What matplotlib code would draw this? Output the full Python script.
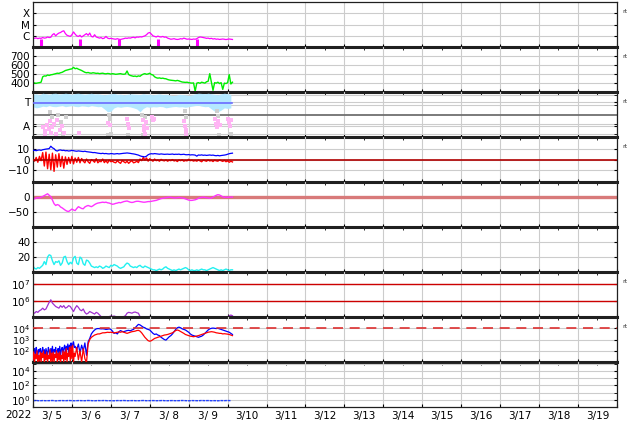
import numpy as np
import matplotlib
matplotlib.use('Agg')
import matplotlib.pyplot as plt
from matplotlib.ticker import NullFormatter

# ---- data (hourly samples from 3/5 00UT, x axis in days) ----
day_labels = ['3/ 5', '3/ 6', '3/ 7', '3/ 8', '3/ 9', '3/10', '3/11', '3/12',
              '3/13', '3/14', '3/15', '3/16', '3/17', '3/18', '3/19']
year_label = '2022'

# X-ray flux, log10 W/m2
xray_log = [-6.2, -6.22, -6.18, -6.25, -6.2, -6.22, -6.15, -6.2, -6.18, -6.1, -6.15, -6.12,
            -5.9, -5.8, -6.0, -5.85, -5.75, -5.7,
            -5.6, -5.55, -5.8, -5.95, -6.0,
            -6.05, -5.9, -5.65, -5.85,
            -6.0, -6.05, -5.95, -6.1,
            -6.0, -5.9, -5.8, -5.95, -5.75, -6.05, -6.1, -5.9, -6.1, -6.15,
            -6.2, -6.15, -6.25, -6.2, -6.05, -6.2, -6.25, -6.22,
            -6.25, -6.28, -6.3, -6.25, -6.3, -6.32, -6.28, -6.25, -6.2, -6.22, -6.18, -6.2,
            -6.15, -6.12, -6.18, -6.1, -6.12, -6.08, -6.1, -6.05,
            -6.0, -5.9, -5.75, -5.7, -5.85, -6.0,
            -6.05, -6.1, -6.02, -6.08, -6.1, -6.05, -6.12, -6.1,
            -6.2, -6.25, -6.3, -6.28, -6.25, -6.3, -6.32, -6.3, -6.25, -6.28, -6.2, -6.25, -6.3, -6.28,
            -6.3, -6.32, -6.28, -6.3, -6.25, -6.15, -6.1, -6.12,
            -6.15, -6.18, -6.22, -6.2, -6.25, -6.22, -6.28, -6.25,
            -6.3, -6.28, -6.32, -6.3, -6.28, -6.3, -6.33, -6.3, -6.28, -6.3, -6.32]
xray_dip_days = [0.2, 1.21, 2.21, 3.21, 4.21]
xray_dip_top = -6.25

# solar wind speed km/s
speed = [410, 400, 398, 402, 405, 410,
         470, 480, 478, 490, 485, 492,
         495, 500, 505, 510, 508, 515, 520,
         530, 540, 545, 550, 555, 558,
         575, 560, 565,
         555, 548, 540, 530,
         520, 515, 518, 512, 510, 515, 512, 508, 510,
         505, 508, 510, 505, 503, 507, 505, 500, 505, 502, 498, 500, 503, 505, 500, 498, 502,
         535,
         495, 485, 480, 475, 478, 472, 480, 476,
         490, 500, 505, 498, 502, 510, 495, 490,
         470, 460, 455, 458, 452, 455, 450, 448,
         440, 435, 432, 430, 428, 425, 430, 425,
         418, 412, 410, 408, 410, 405, 402, 400,
         402, 310, 400, 405, 398, 410, 405, 400, 415, 420, 505, 410, 320, 405, 400, 410,
         395, 405, 330, 400, 395, 405, 495, 390, 410]

# IMF sector (toward / away), 2-hourly envelope of the toward band
phi_hours = np.arange(0, 124, 2)
phi_top = [3.8, 3.85, 3.75, 3.9, 3.85, 3.8, 3.88, 3.9, 3.82, 3.85,
           3.9, 3.86, 3.8, 3.88, 3.9, 3.85, 3.8, 3.85, 3.9, 3.82,
           3.85, 3.8, 3.75, 3.8, 3.85, 3.88, 3.8, 3.82, 3.75, 3.8,
           3.85, 3.82, 3.8, 3.78, 3.85, 3.8, 3.82, 3.75, 3.8, 3.85,
           3.78, 3.8, 3.75, 3.7, 3.72, 3.8, 3.78, 3.75, 3.7, 3.75,
           3.85, 3.9, 3.88, 3.85, 3.9, 3.85, 3.8, 3.75, 3.85, 3.9,
           3.85, 3.8]
phi_bot = [2.7, 2.6, 2.65, 2.75, 2.7, 2.8, 2.72, 2.7, 2.75, 2.8,
           2.7, 2.75, 2.8, 2.72, 2.7, 2.78, 2.75, 2.7, 2.8, 2.75,
           2.7, 2.72, 2.5, 2.25, 2.3, 2.6, 2.7, 2.65, 2.7, 2.72,
           2.68, 2.6, 2.5, 2.25, 2.55, 2.7, 2.65, 2.7, 2.68, 2.72,
           2.7, 2.6, 2.65, 2.7, 2.72, 2.68, 2.7, 2.65, 2.7, 2.75,
           2.8, 2.82, 2.75, 2.7, 2.72, 2.5, 2.3, 2.25, 2.4, 2.6,
           2.55, 2.6]
phi_level = 3.05
away_t = [0.27, 0.3, 0.32, 0.35, 0.4, 0.43, 0.47, 0.5, 0.55, 0.6, 0.63, 0.7, 0.75, 0.8,
          1.17, 1.93, 1.97, 2.42, 2.45, 2.47, 2.82, 2.84, 2.86, 2.88, 2.9, 2.93,
          3.05, 3.08, 3.12, 3.88, 3.9, 3.92, 3.94, 4.68, 4.7, 4.73, 4.76, 4.8,
          5.0, 5.03, 5.06, 5.1]
away_v = [0.9, 0.5, 0.3, 1.1, 0.7, 1.4, 0.4, 0.9, 1.2, 0.3, 1.5, 0.6, 1.0, 0.35,
          0.35, 1.25, 1.1, 1.6, 1.2, 0.8, 1.5, 1.0, 0.6, 0.3, 1.3, 0.8,
          1.8, 1.5, 1.65, 1.4, 1.0, 0.6, 0.3, 1.6, 1.2, 0.9, 1.4, 1.1,
          1.6, 1.3, 1.0, 1.5]
gray_t = [0.45, 0.5, 0.58, 0.65, 0.72, 0.78, 0.84, 1.95, 1.98, 2.0, 2.8, 2.83, 2.87,
          3.9, 3.93, 3.95, 4.72, 4.75, 4.78, 5.08, 1.93, 2.43]
gray_v = [2.2, 1.8, 0.2, 2.0, 1.3, 0.25, 1.8, 2.0, 1.6, 0.3, 2.0, 0.2, 1.8,
          2.3, 1.8, 0.2, 2.3, 1.9, 0.2, 0.25, 0.2, 0.2]

# IMF Bt / Bz, nT
bt = [8.5, 8.7, 8.3, 8.8, 9.0, 8.6, 9.2, 9.5, 9.8, 10.0, 10.3,
      12.5, 11.0, 10.2,
      8.5, 8.0, 8.8, 9.0, 8.5, 8.7, 8.2,
      8.4, 8.0, 8.2, 8.6, 8.3, 8.0, 7.8, 8.1, 7.9, 7.7, 7.5, 7.8, 7.4, 7.2, 7.0, 6.8, 6.5, 6.6, 6.3, 6.0,
      5.8, 5.6, 5.9, 5.5, 5.7, 5.4, 5.3, 5.6, 5.5, 5.2, 5.4, 5.6, 5.3, 5.5, 5.7, 5.9, 6.0, 6.2, 6.0,
      5.8, 5.5, 5.3, 5.0, 4.6, 4.2,
      3.5, 3.0, 2.8, 2.5, 3.2, 4.5, 5.2,
      5.5, 5.3, 5.6, 5.4, 5.2, 5.0, 5.3, 5.1, 4.9, 5.0,
      5.1, 4.9, 5.0, 5.2, 4.8, 5.0, 4.9, 5.1, 4.7, 4.8, 5.0, 4.6, 4.5, 4.7, 4.3, 4.5, 4.4,
      4.2, 3.2, 4.3, 4.1, 4.4, 4.0, 4.2, 3.9, 4.1, 4.3, 4.0, 4.2, 3.8, 3.6, 3.9, 3.5, 3.8, 4.0, 4.2,
      4.5, 5.0, 5.5, 5.8, 6.0]
bz = [1.0, -1.5, 2.0, -2.5, 3.0, -1.0,
      6.5, -6.0, 7.0, -8.5, 5.0, -9.5, 6.0, -11.0, 4.5, -7.0, 5.5, -6.5, 3.0, -8.0, 2.5,
      -4.5, 2.0, -3.5, 3.0, -4.0, 1.5, -2.5, 2.0, -3.0, 1.0,
      -1.5, -3.0, 0.5, -2.0, -3.5, 0.0, -1.0, -2.5, 0.8, -3.0, -1.5, -2.0, 0.5, -2.8, -1.0, -3.2,
      -0.5, -2.0, -1.5, -2.5,
      -3.0, -1.0, -2.5, -3.5, -0.8, -2.0, -3.0, -1.5, -3.5, -2.0, -1.0, -3.0, -2.5, -1.5, -2.8,
      0.5, -1.0, 2.0, -0.5, 1.5, -1.5, 0.8, -0.5, -1.5, 0.5,
      -1.0, -0.5, -1.5, 0.2, -0.8, -1.2, -0.3, -1.5, -0.6, -1.0, 0.0, -1.3, -0.7, -1.8, -0.4, -1.0,
      -0.2, -1.5, -0.8, -1.2, 0.3, -1.0, -0.6, -1.4,
      -0.8, -1.5, -0.4, -1.2, -2.0, -0.5, -1.0, -1.6, -0.3, -1.3, -0.8, -1.8, -0.6, -1.2, -1.5, -0.4,
      -1.0, -1.7, -0.7, -2.0, -1.2, -2.5, -1.5, -2.2]

# Dst, nT
dst = [-5, -6, -3, -2, -3, 0, 2, 5, 8, 11, 6, 1, -10, -22, -28, -25, -27, -33, -36, -40,
       -44, -47, -48, -44, -40, -43, -45, -38, -32, -35, -38, -39, -33, -30, -28, -30, -32, -29,
       -25, -22, -20, -19, -18, -17, -18, -17, -19, -20, -22, -24, -23, -21, -20, -18, -19, -17,
       -15, -14, -13, -15, -17, -18, -17, -15, -14, -14, -15, -16, -17, -17, -16, -15, -15, -14,
       -13, -12, -11, -9, -7, -5, -4, -3, -2, -1, 0, -1, -2, -3, -3, -2, -1, -2, -3, -4, -6, -8,
       -10, -11, -11, -10, -9, -7, -4, -2, -1, 0, -1, -2, -3, -4, -3, 0, 3, 6, 8, 7, 4, 1, -1,
       0, -1, 0, 0, 0]

# AE-like activity (cyan)
act = [8, 5, 4, 6, 5, 7, 9, 14, 10, 20, 23, 22, 15, 10, 14, 13, 15, 9, 12, 20, 21, 14,
       10, 13, 11, 19, 21, 12, 10, 20, 18, 11, 9, 16, 15, 12, 8, 7, 6,
       7, 6, 8, 7, 5, 6, 8, 7, 6, 9, 8, 10, 9, 8, 6, 5, 6, 7, 10, 12, 11, 8, 7, 6,
       7, 6, 8, 9, 7, 6, 8, 7, 6, 5, 4, 3,
       3, 2, 3, 4, 3, 4, 6, 7, 5, 4, 3, 2, 3, 2, 3, 4, 3, 4, 5, 6, 5, 3, 2, 3, 2, 2, 3, 2, 3, 4,
       3, 3, 2, 3, 4, 5, 6, 5, 4, 3, 2, 3, 2, 3, 4, 3, 2, 3, 3]

# >2 MeV electrons, log10
elec_log = [5.3, 5.25, 5.35, 5.3, 5.4, 5.45, 5.55, 5.45, 5.5, 5.7, 5.9, 6.05, 5.85, 5.75,
            5.65, 5.6, 5.55, 5.7, 5.6, 5.7, 5.55, 5.6, 5.7, 5.65, 5.5, 5.35, 5.55, 5.7, 5.6,
            5.45, 5.4, 5.5, 5.3, 5.2, 5.25, 5.35, 5.3, 5.25, 5.2, 5.3,
            5.25, 5.15, 5.05, 5.0, 4.98, 5.02, 5.0, 5.05, 5.08, 5.06, 5.08, 5.05, 5.02, 5.0,
            4.98, 5.0, 5.05, 5.1, 5.25, 5.3, 5.28, 5.25, 5.3, 5.32, 5.28, 5.25, 5.05,
            4.9, 4.85, 4.9, 4.88, 4.9, 5.06,
            4.9, 4.85, 4.8, 4.82, 4.78, 4.8, 4.85, 4.82, 4.8, 4.78, 4.75, 4.8, 4.82, 4.8,
            4.78, 4.76, 4.8, 4.82, 4.85, 4.8, 4.78, 4.75, 4.72, 4.75, 4.78, 4.8, 4.82, 4.8,
            4.78, 4.76, 4.74, 4.75, 4.78, 4.8, 4.82, 4.8, 4.78, 4.75, 4.78, 4.8, 4.82, 4.85,
            4.83, 4.8, 4.85, 4.88, 4.9,
            4.95, 5.1, 5.14, 5.1]

# particle flux, log10 (30-min until 26h, then hourly)
p8_early_hours = np.arange(0, 26, 0.5)
p8_late_hours = np.arange(26, 124)
p8_blue_early = [2.4, 1.8, 2.2, 1.5, 2.3, 2.0, 1.6, 2.1, 1.9, 2.2,
                 1.4, 2.0, 2.3, 1.7, 2.1, 1.5, 2.2, 1.9, 1.6, 2.3,
                 2.0, 1.5, 2.2, 1.8, 2.4, 1.6, 2.1, 1.9, 2.3, 1.5,
                 2.0, 2.2, 1.7, 2.4, 1.6, 2.1, 2.3, 1.8, 2.2, 2.5,
                 1.9, 2.4, 2.1, 2.6, 1.8, 2.5, 2.2, 2.7, 1.6, 2.6,
                 2.8, 2.3]
p8_red_early = [1.2, 1.9, 1.0, 1.7, 1.3, 2.0, 0.9, 1.6, 1.1, 1.9,
                1.0, 1.8, 1.4, 2.0, 0.9, 1.7, 1.2, 1.9, 1.0, 1.6,
                1.3, 2.1, 0.95, 1.8, 1.1, 1.9, 1.0, 1.7, 1.4, 2.0,
                1.0, 1.8, 1.2, 1.9, 0.9, 1.6, 1.3, 2.0, 1.0, 1.9,
                1.2, 2.2, 1.0, 1.8, 1.5, 2.3, 1.1, 2.4, 1.3, 2.5,
                0.95, 1.8]
p8_blue_late = [2.4, 2.1, 2.6, 1.8, 2.5, 2.0, 2.7, 1.6, 2.8, 3.1, 3.5, 3.7, 3.85, 3.95,
                3.98, 3.97, 3.95, 3.96, 3.94, 3.9, 3.92, 3.95, 3.9, 3.75, 3.55, 3.6, 3.5,
                3.7, 3.8, 3.72, 3.7, 3.75, 3.8, 3.82, 3.78, 3.85, 3.9, 4.05, 4.2, 4.35,
                4.3, 4.2, 4.1, 4.05, 3.95, 3.9, 3.85, 3.7, 3.55, 3.45, 3.5, 3.4, 3.35,
                3.2, 3.1, 3.0, 2.95, 3.1, 3.25, 3.35, 3.5, 3.7, 3.9, 4.05, 4.1, 4.05,
                3.95, 3.9, 3.85, 3.75, 3.65, 3.5, 3.4, 3.35, 3.3, 3.25, 3.2, 3.25, 3.3,
                3.4, 3.55, 3.7, 3.85, 3.95, 4.0, 4.02, 4.0, 3.98, 4.0, 3.95, 3.9, 3.85,
                3.8, 3.75, 3.7, 3.65, 3.55, 3.45]
p8_red_late = [1.5, 2.3, 1.2, 2.0, 1.0, 2.2, 1.3, 0.95, 2.6, 3.0, 3.2, 3.3, 3.4, 3.45,
               3.5, 3.5, 3.55, 3.6, 3.6, 3.62, 3.65, 3.63, 3.65, 3.62, 3.6, 3.62, 3.65,
               3.68, 3.65, 3.7, 3.65, 3.6, 3.55, 3.6, 3.65, 3.7, 3.72, 3.75, 3.8, 3.82,
               3.75, 3.6, 3.4, 3.2, 3.05, 2.9, 2.85, 2.9, 3.0, 3.1, 3.15, 3.2, 3.25,
               3.3, 3.35, 3.4, 3.42, 3.45, 3.5, 3.55, 3.6, 3.7, 3.8, 3.85, 3.8, 3.72,
               3.65, 3.55, 3.45, 3.4, 3.35, 3.3, 3.28, 3.25, 3.28, 3.3, 3.35, 3.4, 3.45,
               3.5, 3.55, 3.6, 3.65, 3.68, 3.7, 3.68, 3.65, 3.6, 3.58, 3.55, 3.55, 3.5,
               3.52, 3.5, 3.48, 3.45, 3.4, 3.35]
p8_threshold = 1e4

# bottom panel, log10, 2-hourly
p9_hours = np.arange(0, 124, 2)
p9_log = [-0.12, -0.1, -0.14, -0.11, -0.13, -0.12, -0.1, -0.15, -0.12, -0.11,
          -0.13, -0.1, -0.12, -0.14, -0.11, -0.12, -0.13, -0.1, -0.12, -0.14,
          -0.11, -0.12, -0.1, -0.13, -0.12, -0.14, -0.11, -0.12, -0.1, -0.13,
          -0.12, -0.11, -0.14, -0.12, -0.1, -0.13, -0.12, -0.11, -0.13, -0.12,
          -0.1, -0.14, -0.12, -0.11, -0.13, -0.12, -0.1, -0.12, -0.14, -0.11,
          -0.12, -0.13, -0.1, -0.12, -0.11, -0.13, -0.12, -0.14, -0.11, -0.12,
          -0.1, -0.12]

hours = np.arange(len(speed))
t = hours / 24.0

# ---- figure ----
plt.rcParams['font.family'] = 'DejaVu Sans'
fig, axes = plt.subplots(9, 1, figsize=(6.34, 4.24), dpi=100, sharex=True)
fig.subplots_adjust(left=0.052, right=0.973, top=0.995, bottom=0.04, hspace=0)

GRID = '#cccccc'
FS = 7.5


def setup(ax, ylim, ticks, labels, grid, log=False, fs=FS):
    if log:
        ax.set_yscale('log')
    ax.set_ylim(*ylim)
    ax.set_yticks(ticks, labels)
    ax.set_yticks(grid, minor=True)
    ax.yaxis.set_minor_formatter(NullFormatter())
    ax.yaxis.grid(True, which='both', color=GRID, lw=0.8, zorder=0)
    ax.xaxis.grid(True, which='major', color=GRID, lw=0.8, zorder=0)
    ax.tick_params(axis='y', which='both', direction='in', length=2.5, labelsize=fs,
                   right=True, pad=2)
    ax.tick_params(axis='x', which='major', direction='in', length=2.5, top=False)
    ax.set_axisbelow(True)
    ax.patch.set_alpha(0)


ax = axes[0]
setup(ax, (1e-7, 1e-3), [1e-6, 1e-5, 1e-4], ['C', 'M', 'X'],
      [1e-6, 1e-5, 1e-4], log=True)
ax.plot(t, 10 ** np.array(xray_log), color='#ff00ff', lw=0.9)
ax.vlines(xray_dip_days, 1e-7, 10 ** xray_dip_top, color='#ff00ff', lw=2.2)

ax = axes[1]
setup(ax, (300, 800), [400, 500, 600, 700], ['400', '500', '600', '700'],
      [400, 500, 600, 700])
ax.plot(t, speed, color='#00ee00', lw=1.0)

ax = axes[2]
setup(ax, (0, 4), [3.1, 1.0], ['T', 'A'], [0.3, 1.15, 2.85, 3.7])
ax.axhline(2.0, color='#707070', lw=1.3, zorder=1)
ax.fill_between(phi_hours / 24.0, phi_bot, phi_top, color='#b4e8ff', lw=0, zorder=2)
ax.scatter(gray_t, gray_v, s=5, marker='s', color='#cfcfcf', lw=0, zorder=2)
ax.scatter(away_t, away_v, s=6, marker='s', color='#ffb4f4', lw=0, zorder=3)
ax.plot([t[0], t[-1]], [phi_level, phi_level], color='#6a6aff', lw=1.2, zorder=4)

ax = axes[3]
setup(ax, (-21, 21), [-10, 0, 10], ['\u221210', '0', '10'], [-10, 10])
ax.plot(t, bz, color='#ff0000', lw=1.0, zorder=2)
ax.plot(t, bt, color='#0000ff', lw=0.9, zorder=3)
ax.axhline(0, color='#b00000', lw=1.2, zorder=4)

ax = axes[4]
setup(ax, (-100, 50), [-50, 0], ['\u221250', '0'], [-50])
ax.axhline(0, color='#d87a7a', lw=2.4, zorder=1)
ax.plot(t, dst, color='#ff33ff', lw=1.0, zorder=2)

ax = axes[5]
setup(ax, (0, 60), [20, 40], ['20', '40'], [20, 40])
ax.plot(t, act, color='#22f0f0', lw=1.0)

ax = axes[6]
setup(ax, (10 ** 5.02, 10 ** 7.7), [1e6, 1e7], ['$10^6$', '$10^7$'], [1e6, 1e7], log=True)
ax.axhline(1e6, color='#cc0000', lw=1.0, zorder=1)
ax.axhline(1e7, color='#cc0000', lw=1.0, zorder=1)
ax.plot(t, 10 ** np.array(elec_log), color='#a030d0', lw=0.9, zorder=2)

ax = axes[7]
setup(ax, (1e1, 1e5), [1e2, 1e3, 1e4], ['$10^2$', '$10^3$', '$10^4$'],
      [1e2, 1e3, 1e4], log=True, fs=6.8)
p8_t = np.concatenate([p8_early_hours, p8_late_hours]) / 24.0
ax.plot(p8_t, 10 ** np.array(p8_blue_early + p8_blue_late), color='#0000ff', lw=0.9, zorder=2)
ax.plot(p8_t, 10 ** np.array(p8_red_early + p8_red_late), color='#ff0000', lw=0.9, zorder=3)
ax.axhline(p8_threshold, color='#dd3030', lw=1.2, ls=(0, (6, 4)), zorder=4)

ax = axes[8]
setup(ax, (1e-1, 10 ** 5.2), [1e0, 1e2, 1e4], ['$10^0$', '$10^2$', '$10^4$'],
      [1e0, 1e1, 1e2, 1e3, 1e4, 1e5], log=True)
ax.plot(p9_hours / 24.0, 10 ** np.array(p9_log), color='#2040ff', lw=1.0, ls=(0, (2, 0.6)))

# separators and right-side tags
for i, ax in enumerate(axes):
    for s in ax.spines.values():
        s.set_color('#202020')
        s.set_linewidth(0.9)
    ax.spines['bottom'].set_linewidth(2.2 if i < len(axes) - 1 else 0.9)
    if i > 0:
        ax.spines['top'].set_visible(False)
    if i in (0, 1, 2, 3, 6, 7):
        ax.text(1.01, 0.8, 'rt', transform=ax.transAxes, fontsize=4.5,
                ha='left', va='center', color='#333333')

ax = axes[-1]
ax.set_xlim(0, len(day_labels))
ax.set_xticks(np.arange(len(day_labels) + 1))
ax.set_xticklabels([])
ax.set_xticks(np.arange(len(day_labels)) + 0.5, day_labels, minor=True)
ax.tick_params(axis='x', which='minor', length=0, labelsize=FS, pad=3)
fig.text(18 / 634, 1 - 415 / 424, year_label, ha='center', va='center', fontsize=FS)

fig.savefig('out.png', dpi=100, facecolor='white')
